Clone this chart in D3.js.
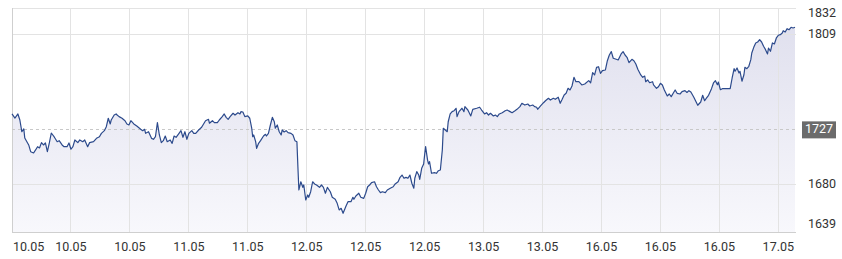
<!DOCTYPE html>
<html>
<head>
<meta charset="utf-8">
<script src="https://cdn.jsdelivr.net/npm/d3@7"></script>
<style>
  body { margin: 0; background: #fff; }
  svg text { font-family: Roboto, "Noto Sans", sans-serif; }
</style>
</head>
<body>
<div id="chart"></div>
<script>
// [minutes since open (trading time), price]
const quotes = [
  [0,1740.7],[3,1737.2],[6,1740.7],[8,1735.5],[10,1725.4],[12,1727.8],[13,1720.0],[17,1714.0],[19,1708.2],[22,1707.1],
  [24,1709.7],[26,1712.5],[28,1711.4],[30,1716.0],[32,1714.0],[34,1715.7],[36,1708.2],[38,1715.7],[40,1724.3],[43,1720.9],
  [46,1716.8],[48,1717.7],[51,1714.0],[53,1712.5],[56,1712.5],[58,1715.7],[60,1710.3],[62,1712.5],[64,1718.3],[67,1716.0],
  [69,1718.3],[72,1716.8],[74,1718.3],[77,1712.5],[79,1716.0],[83,1716.8],[86,1719.7],[89,1721.1],[91,1724.0],[94,1726.3],
  [96,1729.7],[98,1737.0],[100,1732.1],[101,1735.5],[104,1739.8],[106,1740.7],[107,1739.8],[109,1738.4],[112,1737.0],[115,1734.9],
  [117,1732.1],[119,1731.2],[121,1734.9],[124,1732.1],[127,1730.3],[131,1727.5],[133,1726.3],[135,1727.5],[136,1724.0],[139,1725.4],
  [142,1719.7],[144,1718.9],[146,1721.1],[148,1733.2],[150,1722.6],[152,1716.0],[154,1717.7],[156,1721.7],[158,1716.8],[161,1718.3],
  [163,1715.4],[165,1721.7],[167,1720.6],[170,1724.0],[172,1726.3],[174,1720.6],[176,1725.4],[178,1718.9],[180,1724.0],[183,1726.3],
  [185,1724.0],[187,1724.0],[190,1726.9],[193,1729.2],[195,1732.1],[197,1734.9],[200,1736.1],[201,1732.7],[204,1734.9],[206,1733.2],
  [209,1733.2],[211,1735.5],[214,1738.4],[216,1740.7],[218,1737.8],[220,1736.1],[222,1738.4],[225,1741.3],[227,1739.8],[230,1741.8],
  [232,1740.7],[233,1742.7],[235,1742.4],[237,1738.4],[240,1739.0],[242,1737.0],[244,1728.4],[245,1721.1],[246,1722.6],[248,1716.8],
  [249,1711.1],[251,1715.4],[253,1717.7],[256,1721.7],[258,1723.2],[259,1721.7],[261,1724.0],[263,1731.2],[265,1737.8],[267,1734.0],
  [268,1728.4],[270,1731.2],[272,1725.4],[274,1722.6],[275,1726.9],[277,1725.2],[279,1726.3],[281,1724.6],[284,1724.0],[286,1722.6],
  [288,1717.7],[290,1716.8],[291,1695.3],[292,1675.2],[294,1682.3],[296,1677.5],[297,1679.5],[299,1666.6],[301,1670.9],[302,1668.9],
  [304,1673.7],[306,1682.3],[308,1680.4],[310,1679.5],[313,1677.5],[315,1679.5],[317,1677.5],[319,1672.4],[321,1677.5],[324,1673.7],
  [326,1668.9],[329,1667.2],[331,1663.7],[333,1658.0],[335,1659.4],[337,1655.1],[340,1661.4],[342,1665.1],[345,1665.1],[347,1668.9],
  [348,1667.2],[350,1670.0],[353,1672.4],[355,1668.9],[358,1668.0],[360,1672.4],[362,1678.0],[364,1679.5],[366,1681.5],[369,1682.3],
  [371,1678.0],[373,1675.2],[375,1672.9],[377,1673.7],[380,1672.9],[382,1675.2],[385,1676.7],[388,1678.0],[390,1680.4],[393,1682.3],
  [395,1686.1],[397,1688.1],[399,1685.3],[401,1686.1],[403,1685.3],[405,1688.1],[407,1681.0],[409,1676.7],[410,1685.3],[412,1691.0],
  [414,1688.1],[415,1684.4],[417,1693.9],[419,1697.6],[420,1705.4],[421,1712.5],[423,1701.0],[424,1697.6],[425,1699.6],[427,1689.6],
  [430,1690.1],[432,1689.6],[434,1691.8],[436,1692.4],[438,1709.7],[439,1728.4],[441,1726.9],[443,1725.4],[444,1734.0],[446,1740.7],
  [448,1742.7],[450,1743.5],[452,1745.6],[453,1738.4],[455,1742.7],[457,1744.7],[458,1745.6],[460,1742.7],[461,1747.0],[464,1744.1],
  [467,1739.0],[469,1744.7],[473,1745.6],[476,1746.5],[478,1744.1],[481,1740.7],[483,1741.8],[485,1739.8],[487,1741.3],[490,1739.0],
  [492,1739.8],[494,1738.4],[496,1740.7],[499,1741.8],[502,1743.5],[504,1744.1],[507,1742.7],[509,1741.8],[512,1743.5],[514,1744.7],
  [517,1747.0],[519,1749.9],[522,1748.4],[525,1749.3],[527,1747.6],[530,1748.4],[532,1747.0],[534,1746.5],[535,1744.7],[538,1747.6],
  [541,1750.4],[543,1752.1],[546,1754.2],[548,1752.7],[551,1754.2],[553,1753.3],[556,1755.1],[558,1749.9],[560,1753.3],[562,1757.0],
  [564,1758.5],[566,1762.8],[568,1761.4],[570,1764.8],[572,1772.3],[574,1768.5],[577,1768.5],[580,1765.7],[583,1766.5],[587,1769.4],
  [589,1767.6],[591,1776.3],[593,1774.3],[595,1780.9],[597,1781.4],[599,1775.7],[601,1778.0],[604,1778.6],[606,1786.6],[608,1791.5],
  [610,1794.4],[612,1788.7],[615,1787.8],[617,1787.2],[620,1792.4],[622,1794.4],[624,1791.5],[626,1789.5],[628,1784.9],[631,1787.8],
  [633,1786.6],[635,1783.8],[637,1779.2],[640,1774.3],[642,1772.3],[644,1773.4],[645,1768.5],[647,1770.0],[649,1767.6],[652,1768.5],
  [653,1765.7],[656,1762.8],[658,1764.2],[660,1767.1],[662,1765.7],[664,1761.4],[667,1756.2],[669,1757.9],[671,1755.6],[673,1758.5],
  [675,1761.4],[677,1758.5],[680,1757.9],[682,1759.9],[685,1760.8],[687,1759.2],[689,1760.8],[691,1759.6],[694,1755.1],[696,1751.6],
  [698,1748.2],[701,1751.0],[703,1756.8],[705,1752.1],[707,1754.5],[709,1756.8],[712,1762.5],[714,1767.4],[716,1769.4],[718,1765.9],
  [719,1768.2],[721,1761.6],[723,1762.5],[726,1762.5],[730,1762.5],[731,1762.5],[733,1771.7],[735,1779.7],[736,1777.5],[738,1780.3],
  [740,1776.0],[741,1777.5],[743,1768.9],[745,1774.5],[746,1780.9],[748,1779.7],[750,1781.8],[752,1787.5],[753,1793.2],[755,1798.1],
  [757,1801.9],[759,1802.7],[761,1804.7],[763,1802.7],[765,1799.0],[767,1796.1],[769,1792.4],[770,1797.5],[772,1794.7],[774,1801.9],
  [776,1801.0],[778,1806.2],[780,1808.5],[782,1809.0],[784,1810.5],[785,1812.4],[787,1811.3],[789,1814.2],[791,1813.3],[793,1815.4],
  [795,1814.8],[797,1815.4]
];

const timeDomain = [0, 798];
const timeTicks = [0, 60, 120, 180, 240, 300, 360, 420, 480, 540, 600, 660, 720, 780];
const tickLabels = ["10.05","10.05","10.05","11.05","11.05","12.05","12.05","12.05","13.05","13.05","16.05","16.05","16.05","17.05"];
const priceTicks = [1639, 1680, 1809, 1832];
const prevClose = 1727;

const W = 842, H = 259;
const plotL = 12, plotR = 796, plotT = 8, plotB = 232;

const svg = d3.select("#chart").append("svg")
    .attr("width", W)
    .attr("height", H);

const x = d3.scaleLinear().domain(timeDomain).range([plotL, plotR]);
const y = d3.scaleLinear().domain([1639, 1832]).range([plotB, plotT]);

const grad = svg.append("defs").append("linearGradient")
    .attr("id", "fillGrad")
    .attr("gradientUnits", "userSpaceOnUse")
    .attr("x1", 0).attr("x2", 0)
    .attr("y1", plotT).attr("y2", plotB);
grad.append("stop").attr("offset", "0%").attr("stop-color", "#dedeed");
grad.append("stop").attr("offset", "100%").attr("stop-color", "#f8f8fc");

// area under the line
const area = d3.area()
    .x(d => x(d[0]))
    .y0(plotB)
    .y1(d => y(d[1]));
svg.append("path").datum(quotes)
    .attr("d", area)
    .attr("fill", "url(#fillGrad)");

// grid
svg.append("g").selectAll("line").data(timeTicks.slice(1)).enter().append("line")
    .attr("x1", d => x(d)).attr("x2", d => x(d))
    .attr("y1", plotT).attr("y2", plotB)
    .attr("stroke", "#e3e3e3").attr("stroke-width", 1)
    .attr("shape-rendering", "crispEdges");

svg.append("g").selectAll("line").data(priceTicks.slice(1)).enter().append("line")
    .attr("x1", plotL).attr("x2", plotR)
    .attr("y1", d => y(d)).attr("y2", d => y(d))
    .attr("stroke", "#e3e3e3").attr("stroke-width", 1)
    .attr("shape-rendering", "crispEdges");

// axis lines
svg.append("line")
    .attr("x1", plotL).attr("x2", plotR).attr("y1", plotB).attr("y2", plotB)
    .attr("stroke", "#cfcfcf").attr("shape-rendering", "crispEdges");
svg.append("line")
    .attr("x1", plotL).attr("x2", plotL).attr("y1", plotT).attr("y2", plotB)
    .attr("stroke", "#cfcfcf").attr("shape-rendering", "crispEdges");

// previous close
svg.append("line")
    .attr("x1", plotL).attr("x2", plotR)
    .attr("y1", y(prevClose)).attr("y2", y(prevClose))
    .attr("stroke", "#c8c8c8").attr("stroke-dasharray", "3,3")
    .attr("shape-rendering", "crispEdges");

// price line
const line = d3.line().x(d => x(d[0])).y(d => y(d[1]));
svg.append("path").datum(quotes)
    .attr("d", line)
    .attr("fill", "none")
    .attr("stroke", "#2c4a8c")
    .attr("stroke-width", 1.2)
    .attr("stroke-linejoin", "round");

// x labels
svg.append("g").selectAll("text").data(timeTicks).enter().append("text")
    .attr("x", (d, i) => i === 0 ? plotL + 1 : x(d))
    .attr("y", 248)
    .attr("text-anchor", (d, i) => i === 0 ? "start" : "middle")
    .attr("dominant-baseline", "middle")
    .attr("font-size", "12.5px")
    .attr("fill", "#333")
    .text((d, i) => tickLabels[i]);

// y labels
svg.append("g").selectAll("text").data(priceTicks).enter().append("text")
    .attr("x", 808)
    .attr("y", d => Math.max(plotT + 6, Math.min(plotB - 7, y(d))))
    .attr("dominant-baseline", "middle")
    .attr("font-size", "12.5px")
    .attr("fill", "#333")
    .text(d => d);

const tag = svg.append("g").attr("transform", "translate(802," + y(prevClose) + ")");
tag.append("rect")
    .attr("x", 0).attr("y", -8.5)
    .attr("width", 34).attr("height", 17)
    .attr("fill", "#6b6b6b");
tag.append("text")
    .attr("x", 17).attr("y", 0)
    .attr("text-anchor", "middle")
    .attr("dominant-baseline", "middle")
    .attr("font-size", "12.5px")
    .attr("fill", "#fff")
    .text(prevClose);
</script>
</body>
</html>
